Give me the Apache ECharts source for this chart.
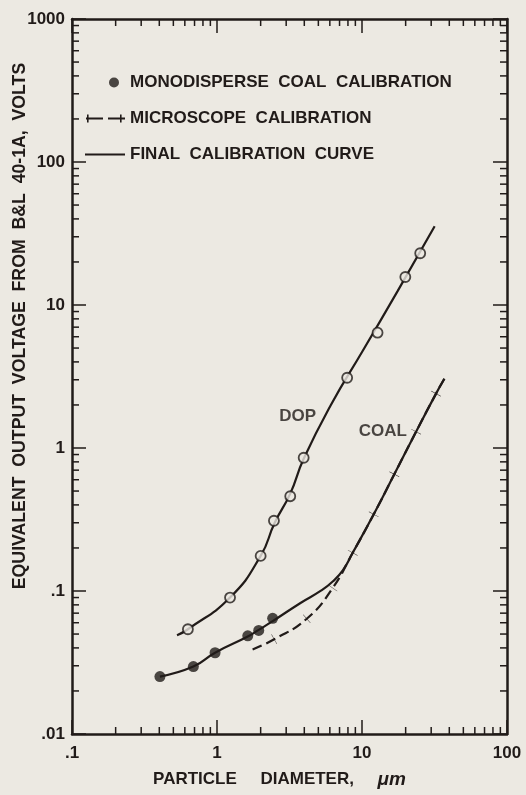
<!DOCTYPE html>
<html>
<head>
<meta charset="utf-8">
<script src="https://cdn.jsdelivr.net/npm/echarts@6/dist/echarts.min.js"></script>
<style>
  html, body { margin: 0; padding: 0; background: #ece9e2; }
  #chart { width: 526px; height: 795px; }
</style>
</head>
<body>
<div id="chart"></div>
<script>
// Particle diameter (µm) vs. equivalent output voltage (V)
const dopPoints = [[0.63, 0.054], [1.23, 0.090], [2.0, 0.176], [2.47, 0.31], [3.2, 0.46],
                   [3.96, 0.855], [7.9, 3.1], [12.8, 6.4], [19.9, 15.7], [25.2, 23.0]];
const dopCurve = [[0.53, 0.049], [0.63, 0.054], [1.23, 0.09], [2.0, 0.176], [2.5, 0.30],
                  [3.2, 0.48], [3.96, 0.84], [6.1, 2.0], [10.1, 4.77], [17.6, 12.5], [31.7, 35.5]];
const coalPoints = [[0.404, 0.0252], [0.687, 0.0296], [0.97, 0.037], [1.63, 0.0486],
                    [1.94, 0.053], [2.42, 0.0644]];
const microscopePoints = [[1.76, 0.039], [2.48, 0.046], [4.16, 0.064], [6.28, 0.105],
                          [8.63, 0.185], [12.05, 0.344], [16.7, 0.655], [23.6, 1.30],
                          [32.4, 2.40], [37, 3.05]];
const coalCurve = [[0.404, 0.0252], [0.687, 0.0296], [0.97, 0.037], [1.63, 0.048],
                   [1.94, 0.0535], [2.42, 0.0615], [3.79, 0.0828], [5.21, 0.1005],
                   [6.31, 0.117], [7.39, 0.140], [8.63, 0.185], [12.05, 0.344],
                   [16.7, 0.655], [23.6, 1.30], [32.4, 2.40], [37, 3.05]];

const seriesNames = ['MONODISPERSE  COAL  CALIBRATION', 'MICROSCOPE  CALIBRATION', 'FINAL  CALIBRATION  CURVE'];
const curveLabelNames = ['DOP', 'COAL'];
const curveLabelPos = [[3.6, 1.67], [13.9, 1.31]];

const xTickValues = [0.1, 1, 10, 100];
const xTickLabels = ['.1', '1', '10', '100'];
const yTickValues = [0.01, 0.1, 1, 10, 100, 1000];
const yTickLabels = ['.01', '.1', '1', '10', '100', '1000'];

const ink = '#211b19';
const paper = '#ece9e2';
const font = 'Liberation Sans';
const fontSize = 17;

// minor tick values (2..9 within each decade)
function minorTicks(decades) {
  const out = [];
  decades.forEach(d => { for (let k = 2; k <= 9; k++) out.push(+(d * k).toPrecision(6)); });
  return out;
}
const xMinor = minorTicks([0.1, 1, 10]);
const yMinor = minorTicks([0.01, 0.1, 1, 10, 100]);

function labelFor(values, labels) {
  return v => {
    const i = values.findIndex(t => Math.abs(Math.log10(t) - Math.log10(v)) < 1e-6);
    return i >= 0 ? labels[i] : '';
  };
}

// cross marks on the microscope line sit perpendicular to the local line direction
const pxPerDecadeX = 145, pxPerDecadeY = 143;
function lineAngle(pts, i) {
  const a = pts[Math.max(0, i - 1)], b = pts[Math.min(pts.length - 1, i + 1)];
  const dx = (Math.log10(b[0]) - Math.log10(a[0])) * pxPerDecadeX;
  const dy = (Math.log10(b[1]) - Math.log10(a[1])) * pxPerDecadeY;
  return Math.atan2(dy, dx) * 180 / Math.PI;
}
const microscopeData = microscopePoints.map((p, i) => {
  const end = i === 0 || i === microscopePoints.length - 1;
  return end ? { value: p, symbol: 'none' } : { value: p, symbolRotate: lineAngle(microscopePoints, i) };
});

function tickRenderer(axis) {
  return function (params, api) {
    const cs = params.coordSys;
    const p = api.coord([api.value(0), api.value(1)]);
    const len = 7;
    const style = { stroke: ink, lineWidth: 1.5 };
    if (axis === 'x') {
      return { type: 'group', children: [
        { type: 'line', shape: { x1: p[0], y1: cs.y + cs.height, x2: p[0], y2: cs.y + cs.height - len }, style },
        { type: 'line', shape: { x1: p[0], y1: cs.y, x2: p[0], y2: cs.y + len }, style }
      ]};
    }
    return { type: 'group', children: [
      { type: 'line', shape: { x1: cs.x, y1: p[1], x2: cs.x + len, y2: p[1] }, style },
      { type: 'line', shape: { x1: cs.x + cs.width, y1: p[1], x2: cs.x + cs.width - len, y2: p[1] }, style }
    ]};
  };
}

// legend keys drawn in a 40x12 box
const dotKey = 'path://M0,0L0,0M40,12L40,12M24,6a5,5 0 1,0 10,0a5,5 0 1,0 -10,0Z';
const crossedDashKey = 'path://M0,0L0,0M40,12L40,12M1,5h17v2h-17zM23,5h17v2h-17zM2,2h1.6v8h-1.6zM35,2h1.6v8h-1.6z';

const axisLineStyle = { color: ink, width: 2.5 };
const majorTick = { show: true, inside: true, length: 14, lineStyle: { color: ink, width: 1.5 } };
const labelStyle = { fontSize: fontSize, fontWeight: 'bold', color: ink, fontFamily: font };
const hidden = 'transparent';

const chart = echarts.init(document.getElementById('chart'), null, { renderer: 'canvas' });

chart.setOption({
  backgroundColor: paper,
  animation: false,
  textStyle: { fontFamily: font, color: ink, fontWeight: 'bold' },
  grid: { left: 72, right: 19, top: 19, bottom: 61, containLabel: false },
  legend: {
    orient: 'vertical',
    left: 79, top: 69,
    itemWidth: 40, itemHeight: 12, itemGap: 19,
    data: [
      { name: seriesNames[0], icon: dotKey, itemStyle: { color: ink, borderWidth: 0 } },
      { name: seriesNames[1], icon: crossedDashKey, itemStyle: { color: ink, borderWidth: 0 } },
      { name: seriesNames[2], itemStyle: { color: hidden, borderColor: hidden } }
    ],
    textStyle: labelStyle,
    inactiveColor: ink
  },
  xAxis: [{
    type: 'log', logBase: 10, min: 0.1, max: 100, splitNumber: 3,
    position: 'bottom',
    axisLine: { show: true, lineStyle: axisLineStyle },
    axisTick: majorTick,
    axisLabel: Object.assign({ show: true, margin: 11, formatter: labelFor(xTickValues, xTickLabels) }, labelStyle),
    splitLine: { show: false },
    name: 'PARTICLE     DIAMETER,     {u|μm}',
    nameLocation: 'middle', nameGap: 36,
    nameTextStyle: Object.assign({ padding: [0, 20, 0, 0],
      rich: { u: { fontSize: 19, fontStyle: 'italic', fontWeight: 'bold', fontFamily: font, color: ink } } }, labelStyle)
  }, {
    type: 'log', logBase: 10, min: 0.1, max: 100, splitNumber: 3,
    position: 'top',
    axisLine: { show: true, lineStyle: axisLineStyle },
    axisTick: majorTick,
    axisLabel: { show: false },
    splitLine: { show: false }
  }],
  yAxis: [{
    type: 'log', logBase: 10, min: 0.01, max: 1000, splitNumber: 5,
    position: 'left',
    axisLine: { show: true, lineStyle: axisLineStyle },
    axisTick: majorTick,
    axisLabel: Object.assign({ show: true, margin: 7, formatter: labelFor(yTickValues, yTickLabels) }, labelStyle),
    splitLine: { show: false }
  }, {
    type: 'log', logBase: 10, min: 0.01, max: 1000, splitNumber: 5,
    position: 'right',
    axisLine: { show: true, lineStyle: axisLineStyle },
    axisTick: majorTick,
    axisLabel: { show: false },
    splitLine: { show: false }
  }],
  graphic: [{
    type: 'text',
    x: 20, y: 326,
    rotation: Math.PI / 2,
    style: {
      text: 'EQUIVALENT  OUTPUT  VOLTAGE  FROM  B&L  40-1A,  VOLTS',
      font: 'bold 17.7px "Liberation Sans"',
      fill: ink,
      textAlign: 'center',
      textVerticalAlign: 'middle'
    }
  }],
  series: [
    {
      name: 'xMinorTicks', type: 'custom', silent: true, z: 5,
      data: xMinor.map(v => [v, 1]),
      renderItem: tickRenderer('x')
    },
    {
      name: 'yMinorTicks', type: 'custom', silent: true, z: 5,
      data: yMinor.map(v => [1, v]),
      renderItem: tickRenderer('y')
    },
    {
      name: 'DOP curve', type: 'line', smooth: 0.5,
      data: dopCurve, showSymbol: false, symbol: 'none',
      lineStyle: { color: ink, width: 2.2 }, z: 2
    },
    {
      name: 'DOP points', type: 'scatter', data: dopPoints,
      symbol: 'circle', symbolSize: 10,
      itemStyle: { color: paper, borderColor: ink, borderWidth: 1.8 }, z: 4
    },
    {
      name: seriesNames[1], type: 'line', data: microscopeData,
      symbol: 'path://M0,0L2,0L2,10L0,10Z', symbolKeepAspect: true, symbolSize: [2.2, 11],
      showSymbol: true, smooth: 0.5,
      itemStyle: { color: ink },
      lineStyle: { color: ink, width: 2.2, type: [10, 5] }, z: 2
    },
    {
      name: seriesNames[2], type: 'line', data: coalCurve, smooth: 0.5,
      symbol: 'none', showSymbol: false,
      itemStyle: { color: ink },
      lineStyle: { color: ink, width: 2.2 }, z: 3
    },
    {
      name: seriesNames[0], type: 'scatter', data: coalPoints,
      symbol: 'circle', symbolSize: 11,
      itemStyle: { color: ink }, z: 4
    },
    {
      name: 'curve labels', type: 'scatter', symbolSize: 0, silent: true,
      data: curveLabelNames.map((n, i) => ({ name: n, value: curveLabelPos[i] })),
      label: Object.assign({ show: true, position: 'inside', formatter: '{b}' }, labelStyle)
    }
  ]
});
</script>
</body>
</html>
